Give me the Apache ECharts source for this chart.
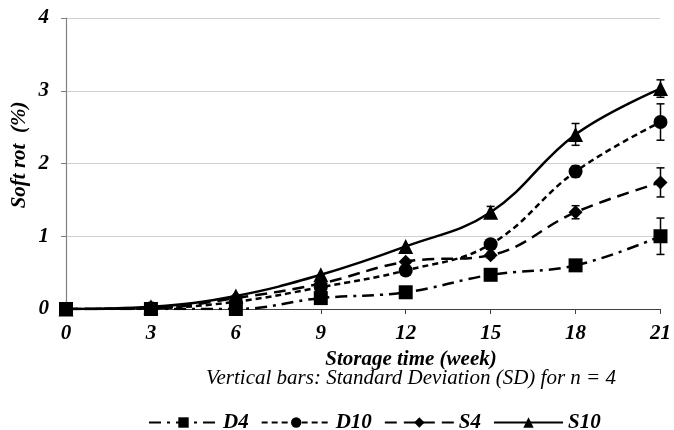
<!DOCTYPE html>
<html>
<head>
<meta charset="utf-8">
<script src="https://cdn.jsdelivr.net/npm/echarts@6/dist/echarts.min.js"></script>
<style>
  html, body { margin: 0; padding: 0; background: #ffffff; }
  #chart { width: 674px; height: 430px; }
</style>
</head>
<body>
<div id="chart"></div>
<script>
// storage time (week)
const weeks = [0, 3, 6, 9, 12, 15, 18, 21];
const xTicks = [0, 3, 6, 9, 12, 15, 18, 21];
const yTicks = [0, 1, 2, 3, 4];

// soft rot (%) per treatment
const d4 = [0, 0, 0, 0.15, 0.23, 0.47, 0.6, 1.0];
const d10 = [0, 0.01, 0.1, 0.3, 0.53, 0.89, 1.89, 2.57];
const s4 = [0, 0.01, 0.15, 0.35, 0.65, 0.74, 1.33, 1.74];
const s10 = [0, 0.03, 0.18, 0.47, 0.86, 1.33, 2.4, 3.03];

// standard deviation (n = 4)
const d4Sd = [0, 0, 0, 0, 0, 0, 0, 0.25];
const d10Sd = [0, 0, 0, 0, 0, 0, 0.08, 0.25];
const s4Sd = [0, 0, 0, 0, 0, 0.04, 0.09, 0.2];
const s10Sd = [0, 0, 0, 0, 0, 0.08, 0.15, 0.12];

const serif = '"Liberation Serif", "Times New Roman", serif';

const pairs = (vals) => weeks.map((w, i) => [w, vals[i]]);

const lineSeries = (name, vals, symbol, size, dash, z) => ({
  name: name,
  type: 'line',
  data: pairs(vals),
  smooth: 0.4,
  symbol: symbol,
  symbolSize: size,
  z: z,
  itemStyle: { color: '#000000' },
  lineStyle: { color: '#000000', width: 2.5, type: dash }
});

const errSeries = (vals, sd) => ({
  type: 'custom',
  silent: true,
  z: 10,
  data: weeks.map((w, i) => [w, vals[i] - sd[i], vals[i] + sd[i]]).filter((d, i) => sd[i] > 0),
  renderItem: (params, api) => {
    const lo = api.coord([api.value(0), api.value(1)]);
    const hi = api.coord([api.value(0), api.value(2)]);
    const cap = 4;
    const st = { stroke: '#000000', lineWidth: 1.5 };
    return {
      type: 'group',
      children: [
        { type: 'line', shape: { x1: lo[0], y1: lo[1], x2: hi[0], y2: hi[1] }, style: st },
        { type: 'line', shape: { x1: lo[0] - cap, y1: lo[1], x2: lo[0] + cap, y2: lo[1] }, style: st },
        { type: 'line', shape: { x1: hi[0] - cap, y1: hi[1], x2: hi[0] + cap, y2: hi[1] }, style: st }
      ]
    };
  }
});

const chart = echarts.init(document.getElementById('chart'));

chart.setOption({
  animation: false,
  backgroundColor: '#ffffff',
  grid: { left: 66, right: 11, top: 18, bottom: 121 },
  legend: {
    left: 143,
    top: 407,
    itemWidth: 69,
    itemHeight: 13,
    itemGap: 12,
    data: ['D4', 'D10', 'S4', 'S10'],
    textStyle: { fontFamily: serif, fontStyle: 'italic', fontWeight: 'bold', fontSize: 21, color: '#000000' }
  },
  xAxis: {
    type: 'value',
    min: xTicks[0],
    max: xTicks[xTicks.length - 1],
    interval: 3,
    axisLine: { lineStyle: { color: '#404040', width: 1.2 } },
    axisTick: { show: true, length: 5, lineStyle: { color: '#404040' } },
    splitLine: { show: false },
    axisLabel: {
      margin: 14,
      fontFamily: serif, fontStyle: 'italic', fontWeight: 'bold', fontSize: 21, color: '#000000'
    }
  },
  yAxis: {
    type: 'value',
    min: yTicks[0],
    max: yTicks[yTicks.length - 1],
    interval: 1,
    axisLine: { show: true, lineStyle: { color: '#808080', width: 1.2 } },
    axisTick: { show: true, length: 5, lineStyle: { color: '#808080' } },
    splitLine: { lineStyle: { color: '#d0d0d0', width: 1 } },
    axisLabel: {
      margin: 17,
      fontFamily: serif, fontStyle: 'italic', fontWeight: 'bold', fontSize: 21, color: '#000000'
    }
  },
  graphic: [
    {
      type: 'text', x: 20, y: 155, rotation: Math.PI / 2,
      style: {
        text: 'Soft rot  (%)', fill: '#000000',
        font: 'italic bold 21px ' + serif, textAlign: 'center', textVerticalAlign: 'middle'
      }
    },
    {
      type: 'text', x: 411, y: 360,
      style: {
        text: 'Storage time (week)', fill: '#000000',
        font: 'italic bold 21px ' + serif, textAlign: 'center', textVerticalAlign: 'middle'
      }
    },
    {
      type: 'text', x: 411, y: 378,
      style: {
        text: 'Vertical bars: Standard Deviation (SD) for n = 4', fill: '#000000',
        font: 'italic 21px ' + serif, textAlign: 'center', textVerticalAlign: 'middle'
      }
    }
  ],
  series: [
    lineSeries('D4', d4, 'rect', 14, [12, 6, 3, 6], 6),
    lineSeries('D10', d10, 'circle', 14, [6, 4], 3),
    lineSeries('S4', s4, 'diamond', 14, [12, 7], 4),
    lineSeries('S10', s10, 'triangle', 15, 'solid', 5),
    errSeries(d4, d4Sd),
    errSeries(d10, d10Sd),
    errSeries(s4, s4Sd),
    errSeries(s10, s10Sd)
  ]
});
</script>
</body>
</html>
